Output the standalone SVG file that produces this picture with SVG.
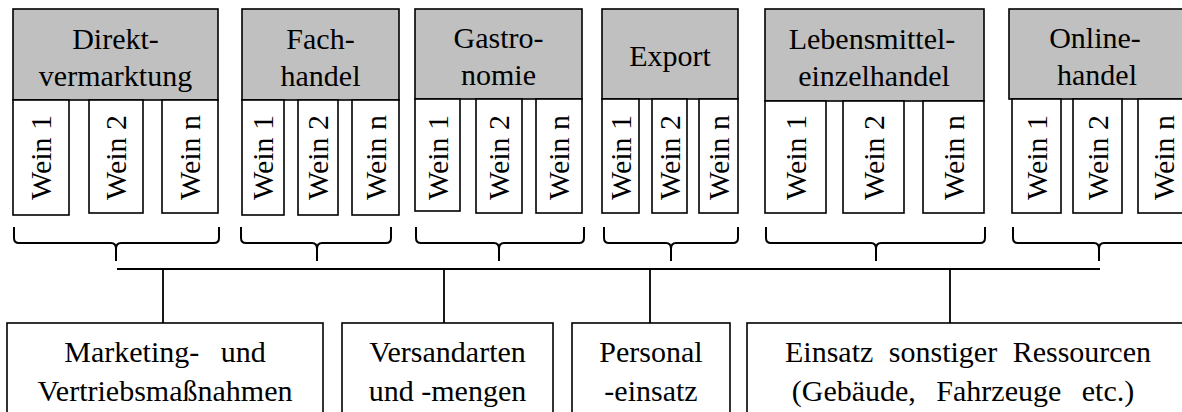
<svg xmlns="http://www.w3.org/2000/svg" width="1182" height="412" viewBox="0 0 1182 412" font-family="'Liberation Serif', 'Times New Roman', serif">
<style>
.hd{fill:#c0c0c0;stroke:#000;stroke-width:1.6}
.wb{fill:#fff;stroke:#000;stroke-width:1.6}
.bx{fill:#fff;stroke:#000;stroke-width:1.6}
text{font-family:'Liberation Serif', 'Times New Roman', serif;font-size:30px;fill:#000;text-anchor:middle}
.ln{fill:none;stroke:#000;stroke-width:1.8}
.br{fill:none;stroke:#000;stroke-width:2}
</style>
<rect width="1182" height="412" fill="#fff"/>

<g id="direktvermarktung">
<rect class="hd" x="13" y="9" width="205" height="91"/>
<text x="115.5" y="49">Direkt-</text>
<text x="115.5" y="86">vermarktung</text>
<g id="dv-w1"><rect class="wb" x="13" y="100" width="56" height="115"/><text transform="translate(51,157.5) rotate(-90)">Wein 1</text></g>
<g id="dv-w2"><rect class="wb" x="89" y="100" width="54" height="113"/><text transform="translate(126,157.5) rotate(-90)">Wein 2</text></g>
<g id="dv-wn"><rect class="wb" x="162" y="100" width="56" height="113"/><text transform="translate(200,157.5) rotate(-90)">Wein n</text></g>
</g>

<g id="fachhandel">
<rect class="hd" x="242" y="9" width="157" height="91"/>
<text x="320.5" y="49">Fach-</text>
<text x="320.5" y="86">handel</text>
<g id="fh-w1"><rect class="wb" x="242" y="100" width="42" height="115"/><text transform="translate(273,157.5) rotate(-90)">Wein 1</text></g>
<g id="fh-w2"><rect class="wb" x="298" y="100" width="40" height="115"/><text transform="translate(328,157.5) rotate(-90)">Wein 2</text></g>
<g id="fh-wn"><rect class="wb" x="352" y="100" width="47" height="115"/><text transform="translate(385.5,157.5) rotate(-90)">Wein n</text></g>
</g>

<g id="gastronomie">
<rect class="hd" x="415" y="9" width="167" height="90"/>
<text x="498.5" y="48">Gastro-</text>
<text x="498.5" y="85">nomie</text>
<g id="ga-w1"><rect class="wb" x="415" y="99" width="45" height="112"/><text transform="translate(447.5,157.5) rotate(-90)">Wein 1</text></g>
<g id="ga-w2"><rect class="wb" x="476" y="99" width="46" height="114"/><text transform="translate(509,157.5) rotate(-90)">Wein 2</text></g>
<g id="ga-wn"><rect class="wb" x="536" y="99" width="46" height="114"/><text transform="translate(569,157.5) rotate(-90)">Wein n</text></g>
</g>

<g id="export">
<rect class="hd" x="602" y="9" width="136" height="90"/>
<text x="670" y="66">Export</text>
<g id="ex-w1"><rect class="wb" x="602" y="99" width="37" height="114"/><text transform="translate(630.5,157.5) rotate(-90)">Wein 1</text></g>
<g id="ex-w2"><rect class="wb" x="652" y="99" width="35" height="114"/><text transform="translate(679.5,157.5) rotate(-90)">Wein 2</text></g>
<g id="ex-wn"><rect class="wb" x="699" y="99" width="39" height="114"/><text transform="translate(728.5,157.5) rotate(-90)">Wein n</text></g>
</g>

<g id="lebensmitteleinzelhandel">
<rect class="hd" x="765" y="9" width="219" height="92"/>
<text x="872" y="49">Lebensmittel-</text>
<text x="874" y="86">einzelhandel</text>
<g id="le-w1"><rect class="wb" x="765" y="101" width="61" height="112"/><text transform="translate(805.5,157.5) rotate(-90)">Wein 1</text></g>
<g id="le-w2"><rect class="wb" x="843" y="101" width="61" height="112"/><text transform="translate(883.5,157.5) rotate(-90)">Wein 2</text></g>
<g id="le-wn"><rect class="wb" x="923" y="101" width="61" height="112"/><text transform="translate(963.5,157.5) rotate(-90)">Wein n</text></g>
</g>

<g id="onlinehandel">
<rect class="hd" x="1009" y="9" width="180" height="90"/>
<text x="1095" y="48">Online-</text>
<text x="1097" y="85">handel</text>
<g id="on-w1"><rect class="wb" x="1012" y="99" width="49" height="114"/><text transform="translate(1046.5,157.5) rotate(-90)">Wein 1</text></g>
<g id="on-w2"><rect class="wb" x="1073" y="99" width="49" height="114"/><text transform="translate(1107.5,157.5) rotate(-90)">Wein 2</text></g>
<g id="on-wn"><rect class="wb" x="1138" y="99" width="52" height="114"/><text transform="translate(1174,157.5) rotate(-90)">Wein n</text></g>
</g>

<g id="connectors">
<path class="br" d="M14,227 V238 Q14,243 19,243 H111 Q116,243 116,249 V261 M116,249 Q116,243 121,243 H214 Q219,243 219,238 V227"/>
<path class="br" d="M241,227 V238 Q241,243 246,243 H312 Q317,243 317,249 V261 M317,249 Q317,243 322,243 H386 Q391,243 391,238 V227"/>
<path class="br" d="M416,227 V238 Q416,243 421,243 H494 Q499,243 499,249 V261 M499,249 Q499,243 504,243 H579 Q584,243 584,238 V227"/>
<path class="br" d="M604,227 V238 Q604,243 609,243 H666 Q671,243 671,249 V261 M671,249 Q671,243 676,243 H733 Q738,243 738,238 V227"/>
<path class="br" d="M766,227 V238 Q766,243 771,243 H871 Q876,243 876,249 V261 M876,249 Q876,243 881,243 H980 Q985,243 985,238 V227"/>
<path class="br" d="M1013,227 V238 Q1013,243 1018,243 H1094 Q1099,243 1099,249 V261 M1099,249 Q1099,243 1104,243 H1195"/>
<path class="ln" d="M117,269 H1100 M163,269 V323 M444,269 V323 M650,269 V323 M950,269 V323"/>
</g>

<g id="marketing">
<rect class="bx" x="7" y="323" width="316" height="100"/>
<text x="165" y="362" word-spacing="14">Marketing- und</text>
<text x="165" y="401">Vertriebsmaßnahmen</text>
</g>
<g id="versand">
<rect class="bx" x="342" y="323" width="211" height="100"/>
<text x="447.5" y="362">Versandarten</text>
<text x="447.5" y="401">und -mengen</text>
</g>
<g id="personal">
<rect class="bx" x="572" y="323" width="158" height="100"/>
<text x="651" y="362">Personal</text>
<text x="651" y="401">-einsatz</text>
</g>
<g id="ressourcen">
<rect class="bx" x="747" y="323" width="450" height="100"/>
<text x="968" y="362" word-spacing="8">Einsatz sonstiger Ressourcen</text>
<text x="963" y="401" word-spacing="13">(Gebäude, Fahrzeuge etc.)</text>
</g>
</svg>
